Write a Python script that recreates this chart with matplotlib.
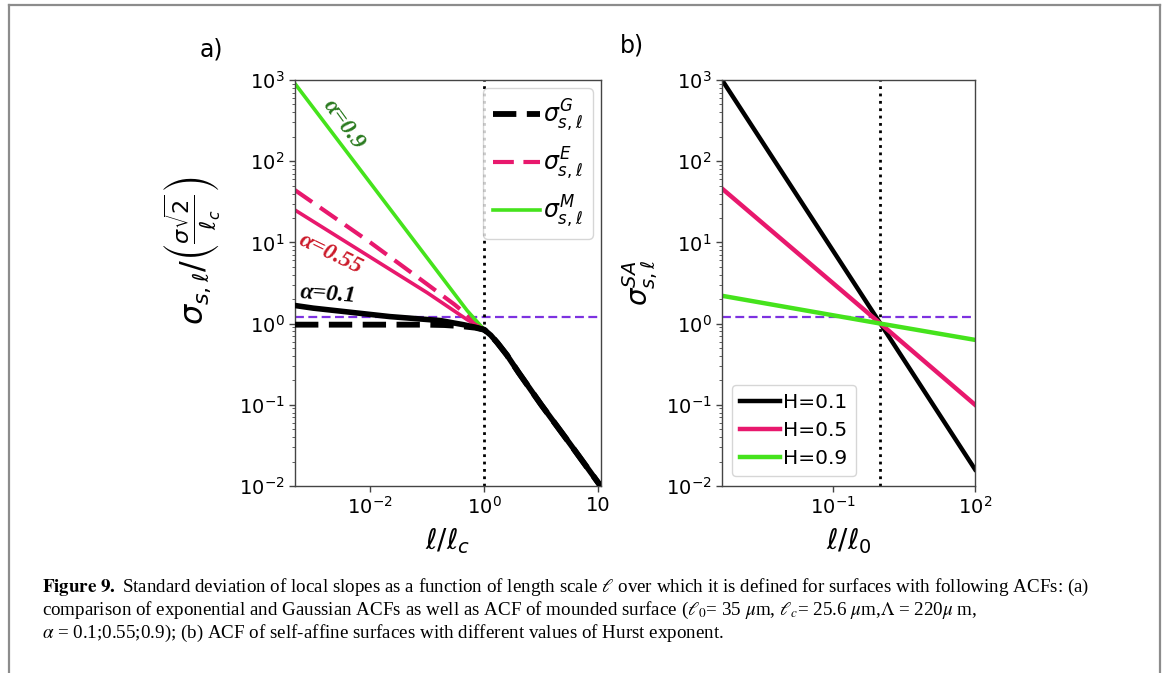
import matplotlib
matplotlib.use("Agg")
import matplotlib.pyplot as plt
from matplotlib.lines import Line2D
from matplotlib.ticker import NullLocator

# ---- data ----
# panel a) x = l/lc, y = sigma_s,l / (sigma sqrt2 / lc)
tail_x = [1.0, 1.3, 1.7, 2.5, 4.0, 10.0, 32.0, 112.0]
tail_y = [0.84, 0.72, 0.58, 0.41, 0.25, 0.10, 0.033, 0.0098]

gauss_x = [4.8e-4, 1e-3, 1e-2, 0.1, 0.2, 0.4, 0.7] + tail_x
gauss_y = [0.97, 0.97, 0.97, 0.97, 0.96, 0.93, 0.89] + tail_y

expo_x = [4.8e-4, 1e-2, 0.1, 0.3, 0.6] + tail_x
expo_y = [44.0, 10.0, 3.05, 1.72, 1.15] + tail_y

mound_x = [4.8e-4, 0.5] + tail_x
mound_y = [900.0, 1.45] + tail_y

a055_x = [4.8e-4, 0.1, 0.5] + tail_x
a055_y = [25.0, 2.4, 1.12] + tail_y

a01_x = [4.8e-4, 1e-3, 2.2e-2, 0.17, 0.43, 0.7] + tail_x
a01_y = [1.67, 1.55, 1.22, 1.09, 0.97, 0.90] + tail_y

# panel b) self-affine, x = l/l0
sa_x = [4.5e-4, 1.0, 100.0]
sa_H01 = [1000.0, 1.0, 0.016]
sa_H05 = [46.0, 1.0, 0.1]
sa_H09 = [2.2, 1.0, 0.63]

ref_level = 1.22
xa_ticks = [1e-2, 1.0, 100.0]
xa_labels = [r"$10^{-2}$", r"$10^{0}$", "10"]
xb_ticks = [0.1, 100.0]
xb_labels = [r"$10^{-1}$", r"$10^{2}$"]

PINK = "#e8186d"
GREEN = "#45e31c"
PURPLE = "#7d32e0"

fig = plt.figure(figsize=(11.68, 6.73), dpi=100)

# ---------------- panel a ----------------
axa = fig.add_axes([0.2526, 0.2779, 0.262, 0.6032])
axa.set_xscale("log")
axa.set_yscale("log")
axa.plot(gauss_x, gauss_y, color="black", lw=4.2, ls=(0, (4, 1.8)), label=r"$\sigma^{G}_{s,\ell}$", zorder=3)
axa.plot(expo_x, expo_y, color=PINK, lw=3, ls=(0, (5, 2.3)), label=r"$\sigma^{E}_{s,\ell}$", zorder=2)
axa.plot(mound_x, mound_y, color=GREEN, lw=2.6, label=r"$\sigma^{M}_{s,\ell}$", zorder=2)
axa.plot(a055_x, a055_y, color=PINK, lw=2.6, zorder=2)
axa.plot(a01_x, a01_y, color="black", lw=4, zorder=4)
axa.axhline(ref_level, color=PURPLE, ls=(0, (4, 2)), lw=1.6, zorder=1)
axa.axvline(1.0, color="black", ls=":", lw=2, zorder=1)
axa.set_xlim(4.8e-4, 112)
axa.set_ylim(1e-2, 1e3)
axa.set_xticks(xa_ticks)
axa.set_xticklabels(xa_labels)
axa.xaxis.set_minor_locator(NullLocator())

ann = dict(fontsize=17, family="Liberation Serif", style="italic", weight="bold",
           ha="center", va="center")
axa.text(3.4e-3, 280, "α=0.9", color="#2a7a1f", rotation=-54, **ann)
axa.text(2.0e-3, 7.2, "α=0.55", color="#cc1a2a", rotation=-26, **ann)
axa.text(1.8e-3, 2.3, "α=0.1", color="black", rotation=-4, **ann)

axa.set_xlabel(r"$\ell/\ell_c$", fontsize=20, labelpad=6)
axa.set_ylabel(r"$\sigma_{s,\ell}/\left(\frac{\sigma\sqrt{2}}{\ell_c}\right)$", fontsize=23)
axa.yaxis.set_label_coords(-0.24, 0.58)
axa.legend(loc="upper right", fontsize=17, handlelength=2.0, handletextpad=0.15,
           labelspacing=0.5, borderaxespad=0.35)
fig.text(0.181, 0.927, "a)", fontsize=17, ha="center", va="center")

# ---------------- panel b ----------------
axb = fig.add_axes([0.6182, 0.2779, 0.2166, 0.6032])
axb.set_xscale("log")
axb.set_yscale("log")
axb.plot(sa_x, sa_H01, color="black", lw=3.2, label="H=0.1")
axb.plot(sa_x, sa_H05, color=PINK, lw=3.2, label="H=0.5")
axb.plot(sa_x, sa_H09, color=GREEN, lw=3.2, label="H=0.9")
axb.axhline(ref_level, color=PURPLE, ls=(0, (4, 2)), lw=1.6, zorder=1)
axb.axvline(1.0, color="black", ls=":", lw=2, zorder=1)
axb.set_xlim(4.5e-4, 100)
axb.set_ylim(1e-2, 1e3)
axb.set_xticks(xb_ticks)
axb.set_xticklabels(xb_labels)
axb.xaxis.set_minor_locator(NullLocator())
axb.set_xlabel(r"$\ell/\ell_0$", fontsize=20, labelpad=6)
axb.set_ylabel(r"$\sigma^{SA}_{s,\ell}$", fontsize=20, labelpad=4)
axb.legend(loc="lower left", fontsize=14.5, handlelength=2.0, handletextpad=0.15,
           labelspacing=0.45, borderaxespad=0.5)
fig.text(0.541, 0.933, "b)", fontsize=17, ha="center", va="center")

for ax in (axa, axb):
    ax.tick_params(labelsize=14, length=4, width=1, color="#444444")
    ax.tick_params(which="minor", length=2, width=0.6, color="#444444")
    for sp in ax.spines.values():
        sp.set_color("#444444")
        sp.set_linewidth(1)

# ---------------- caption ----------------
cap = [
    r"$\bf{Figure\ 9.}$ Standard deviation of local slopes as a function of length scale $\ell$ over which it is defined for surfaces with following ACFs: (a)",
    r"comparison of exponential and Gaussian ACFs as well as ACF of mounded surface ($\ell_0$= 35 $\mu$m, $\ell_c$= 25.6 $\mu$m,$\Lambda$ = 220$\mu$ m,",
    r"$\alpha$ = 0.1;0.55;0.9); (b) ACF of self-affine surfaces with different values of Hurst exponent.",
]
cap_y = [587, 610, 633]
for line, yy in zip(cap, cap_y):
    fig.text(42 / 1168, 1 - yy / 673, line, fontsize=13.7, family="Liberation Serif",
             math_fontfamily="stix", ha="left", va="center")

# ---------------- page frame ----------------
fc = "#8c8c8c"
fig.add_artist(Line2D([9 / 1168, 1160 / 1168], [1 - 5 / 673, 1 - 5 / 673], color=fc, lw=1.6))
fig.add_artist(Line2D([9 / 1168, 9 / 1168], [0, 1 - 5 / 673], color=fc, lw=1.6))
fig.add_artist(Line2D([1160 / 1168, 1160 / 1168], [0, 1 - 5 / 673], color=fc, lw=1.6))

fig.savefig("out.png", dpi=100)
